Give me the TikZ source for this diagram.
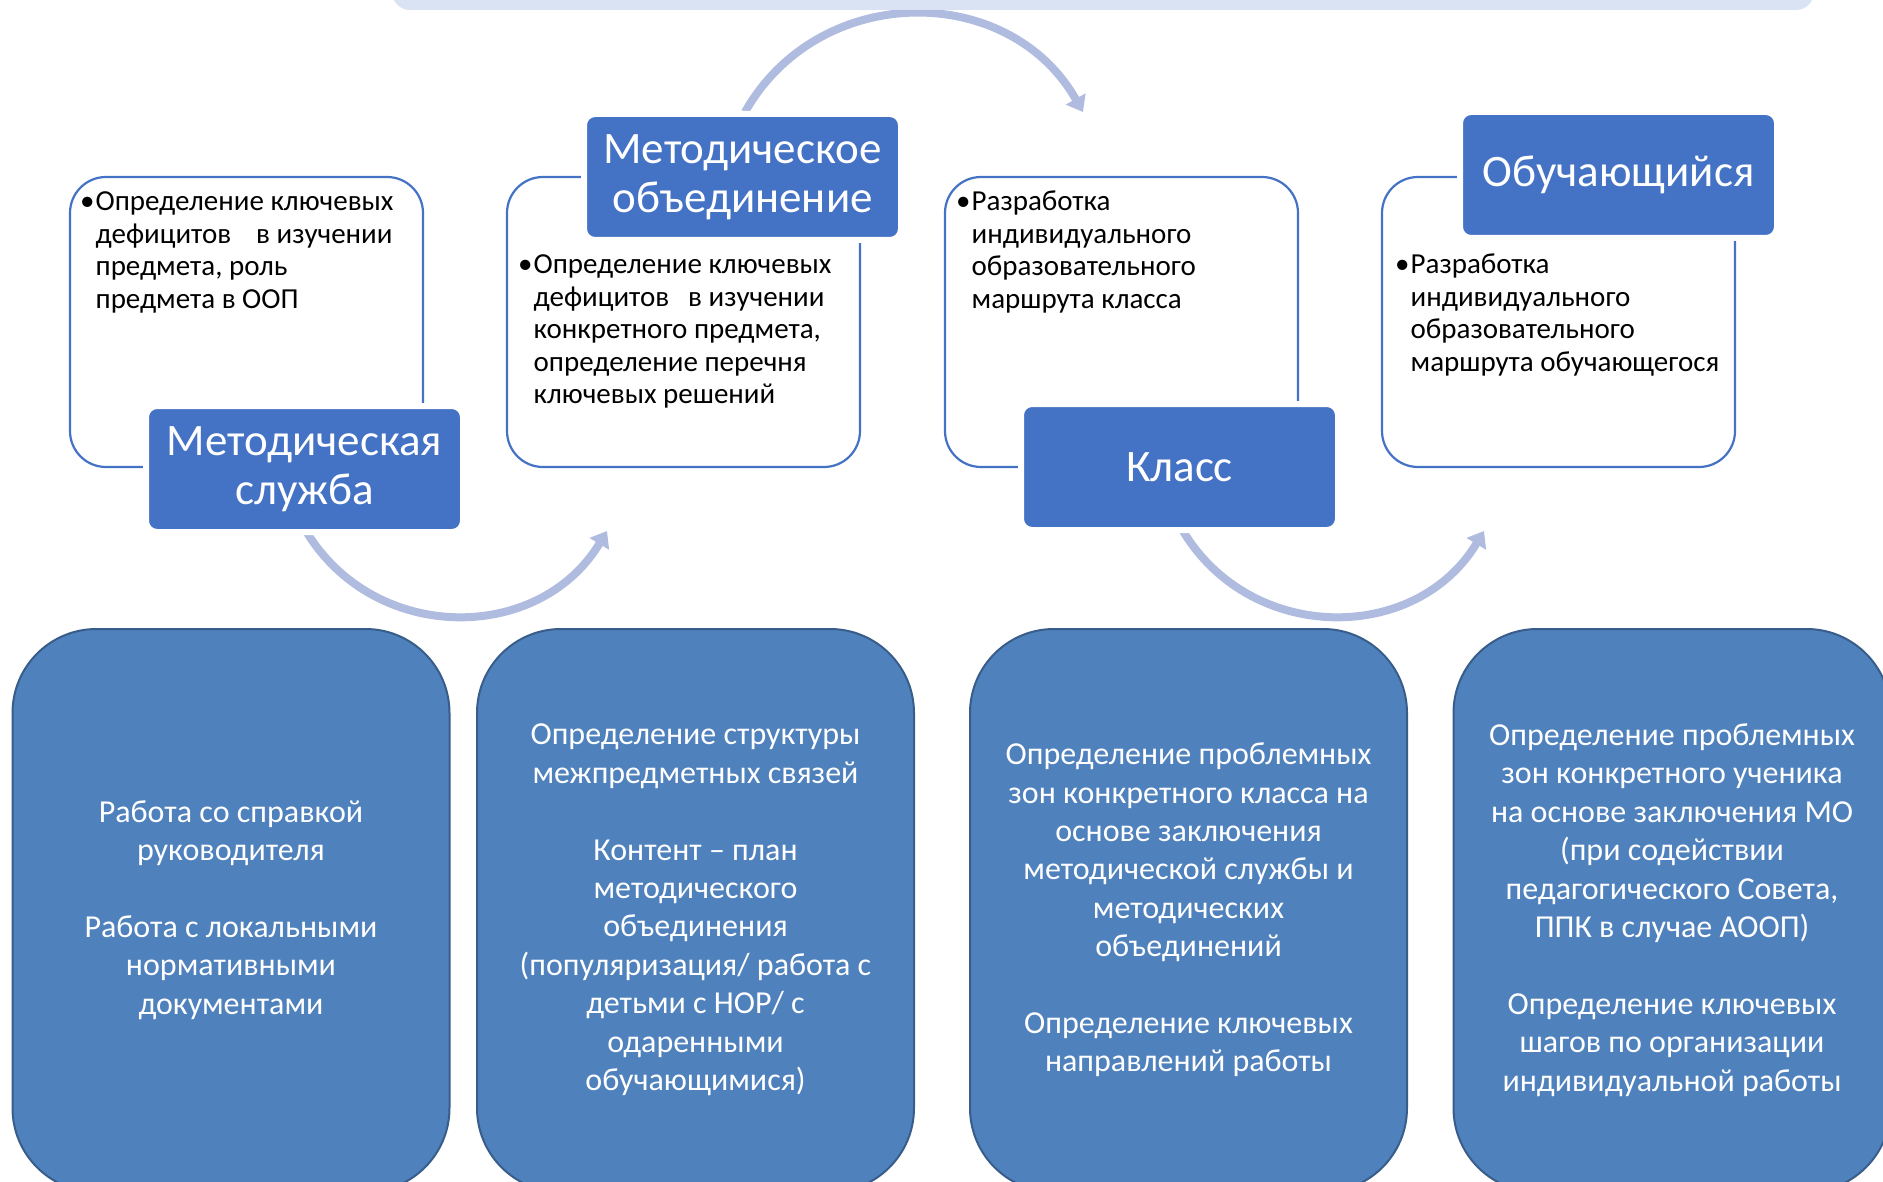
\documentclass[tikz,border=0pt]{standalone}
\usepackage{fontspec}
\setmainfont{Carlito}
\usetikzlibrary{arrows.meta,backgrounds}
\definecolor{lblue}{HTML}{4472C4}
\definecolor{bfill}{HTML}{4F81BD}
\definecolor{bdraw}{HTML}{385D8A}
\definecolor{arrc}{HTML}{AFBCDF}
\definecolor{banc}{HTML}{DAE3F3}
\begin{document}
\begin{tikzpicture}[x=1pt,y=-1pt,
  outbox/.style={draw=lblue,line width=2.2pt,fill=white,rounded corners=36pt,minimum width=353pt,minimum height=290pt,inner sep=0pt},
  labbox/.style={fill=lblue,draw=white,line width=6pt,rounded corners=11pt,minimum width=317pt,minimum height=126pt,text=white,align=center,font=\fontsize{45}{49}\selectfont,inner sep=0pt},
  bigbox/.style={fill=bfill,draw=bdraw,line width=2pt,rounded corners=84pt,minimum width=437pt,minimum height=563pt,inner sep=0pt},
  bigtext/.style={text=white,align=center,font=\fontsize{32}{38.4}\selectfont,inner sep=0pt},
  bultext/.style={anchor=north west,inner sep=0pt,font=\fontsize{29}{32.4}\selectfont},
  flow/.style={draw=arrc,line width=8pt,-{Triangle[width=22pt,length=15pt]}}
]
\useasboundingbox (0,0) rectangle (1883,1182);
\clip (0,0) rectangle (1883,1182);

% banner at top
\node[fill=banc,rounded corners=18pt,minimum width=1422pt,minimum height=60pt,inner sep=0pt] (banner) at (1103,-20) {};

% outline boxes
\node[outbox] (ob1) at (246.5,322) {};
\node[outbox] (ob2) at (683.5,322) {};
\node[outbox] (ob3) at (1121.5,322) {};
\node[outbox] (ob4) at (1558.5,322) {};

% bullet texts
\node[bultext] (t1) at (80,188) {\begin{tabular}{@{}l@{\hspace{1pt}}l@{}}\textbullet & Определение ключевых\\ & дефицитов\hspace{25pt}в изучении\\ & предмета, роль\\ & предмета в ООП\end{tabular}};
\node[bultext] (t2) at (518,251) {\begin{tabular}{@{}l@{\hspace{1pt}}l@{}}\textbullet & Определение ключевых\\ & дефицитов\hspace{19pt}в изучении\\ & конкретного предмета,\\ & определение перечня\\ & ключевых решений\end{tabular}};
\node[bultext] (t3) at (956,188) {\begin{tabular}{@{}l@{\hspace{1pt}}l@{}}\textbullet & Разработка\\ & индивидуального\\ & образовательного\\ & маршрута класса\end{tabular}};
\node[bultext] (t4) at (1395,251) {\begin{tabular}{@{}l@{\hspace{1pt}}l@{}}\textbullet & Разработка\\ & индивидуального\\ & образовательного\\ & маршрута обучающегося\end{tabular}};

% labels
\node[labbox] (lab1) at (304.5,469) {Методическая\\служба};
\node[labbox] (lab2) at (742.5,177) {Методическое\\объединение};
\node[labbox] (lab3) at (1179.5,467) {Класс};
\node[labbox] (lab4) at (1618.5,175) {Обучающийся};

% flow arrows
\coordinate (a1s) at (306,531);
\coordinate (a1e) at (607,531);
\coordinate (a2s) at (745,112);
\coordinate (a2e) at (1083,112);
\coordinate (a3s) at (1183,531);
\coordinate (a3e) at (1484,531);
\begin{scope}[on background layer]
\draw[flow] (a1s) .. controls (374,644) and (539,644) .. (a1e);
\draw[flow] (a2s) .. controls (819,-18.5) and (1009,-18.5) .. (a2e);
\draw[flow] (a3s) .. controls (1251,644) and (1416,644) .. (a3e);
\end{scope}

% bottom boxes
\node[bigbox] (bb1) at (231,910.5) {};
\node[bigbox] (bb2) at (695.5,910.5) {};
\node[bigbox] (bb3) at (1188.5,910.5) {};
\node[bigbox] (bb4) at (1672,910.5) {};

\node[bigtext] (bt1) at (231,910) {Работа со справкой\\руководителя\\[38.4pt]Работа с локальными\\нормативными\\документами};
\node[bigtext] (bt2) at (695.5,910) {Определение структуры\\межпредметных связей\\[38.4pt]Контент – план\\методического\\объединения\\(популяризация/ работа с\\детьми с НОР/ с\\одаренными\\обучающимися)};
\node[bigtext] (bt3) at (1188.5,910) {Определение проблемных\\зон конкретного класса на\\основе заключения\\методической службы и\\методических\\объединений\\[38.4pt]Определение ключевых\\направлений работы};
\node[bigtext] (bt4) at (1672,910) {Определение проблемных\\зон конкретного ученика\\на основе заключения МО\\(при содействии\\педагогического Совета,\\ППК в случае АООП)\\[38.4pt]Определение ключевых\\шагов по организации\\индивидуальной работы};
\end{tikzpicture}
\end{document}
